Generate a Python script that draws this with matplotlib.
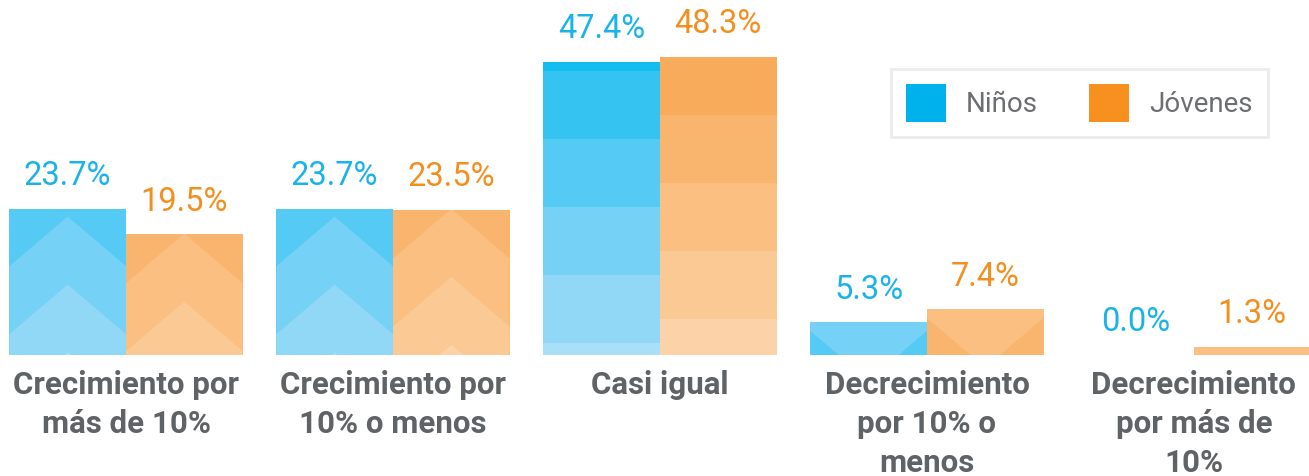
import numpy as np
import matplotlib
matplotlib.use('Agg')
import matplotlib.pyplot as plt
from matplotlib.patches import Patch

# data
categories = ['Crecimiento por\nmás de 10%', 'Crecimiento por\n10% o menos', 'Casi igual',
              'Decrecimiento\npor 10% o\nmenos', 'Decrecimiento\npor más de\n10%']
ninos = [23.7, 23.7, 47.4, 5.3, 0.0]
jovenes = [19.5, 23.5, 48.3, 7.4, 1.3]
series_names = ['Niños', 'Jóvenes']
patterns = ['up', 'up', 'flat', 'down', 'down']

# style
blue_main = '#00b2ec'
orange_main = '#f7901e'
blue_txt = '#19b3ea'
orange_txt = '#f38f1f'
label_col = '#5f6366'
blue_shades = ['#12bdf0', '#35c4f2', '#55caf4', '#75d1f5', '#90d8f6', '#a8e0f8']
orange_shades = ['#f8ab5a', '#f9b56e', '#fabf81', '#fbc993', '#fcd3a8', '#fcdcb8']
start_idx = {('up', 0): 2, ('up', 1): 1, ('flat', 0): 0, ('flat', 1): 0,
             ('down', 0): 3, ('down', 1): 2}
phase = {('up', 0): 1.3, ('up', 1): -0.15, ('flat', 0): 1.45, ('flat', 1): 9.4,
         ('down', 0): 1.4, ('down', 1): 1.4}   # band offset below bar top (data units)
spacing = 11.0             # band spacing (data units)
px_x, px_y = 267.0, 6.18   # pixels per data unit
slope = 0.85 * px_x / px_y

plt.rcParams['font.family'] = ['Roboto', 'DejaVu Sans']
fig = plt.figure(figsize=(13.09, 4.76), dpi=100)
ax = fig.add_axes([0, (476 - 355) / 476, 1, 355 / 476])
ax.set_xlim(-0.472, 4.431)
ax.set_ylim(0, 355 / px_y)
ax.axis('off')

x = np.arange(len(categories))
w = 0.437


def decorate(patch, kind, s):
    shades = blue_shades if s == 0 else orange_shades
    x0 = patch.get_x()
    x1 = x0 + patch.get_width()
    xc = (x0 + x1) / 2
    hw = (x1 - x0) / 2
    top = patch.get_height()
    if top <= 0:
        return
    i0 = start_idx[(kind, s)]
    ph = phase[(kind, s)]
    polys = []
    if kind == 'flat':
        for k in range(8):
            y = top - ph - k * spacing
            polys.append(([x0, x1, x1, x0], [y, y, -50, -50]))
        cols = shades[i0:]
    elif kind == 'up':
        for k in range(8):
            ap = top - ph - k * spacing
            polys.append(([x0, xc, x1, x1, x0], [ap - slope * hw, ap, ap - slope * hw, -50, -50]))
        cols = shades[i0:]
    else:
        for k in range(8):
            yt = top - ph - k * spacing
            yc = yt - slope * hw
            polys.append(([x0, x0, xc, x1, x1], [-50, yt, yc, yt, -50]))
        cols = shades[i0::-1]
    base = ax.fill([x0, x1, x1, x0], [0, 0, top, top], color=cols[0], lw=0)[0]
    base.set_clip_path(patch)
    for k, (px, py) in enumerate(polys):
        c = cols[min(k + 1, len(cols) - 1)]
        f = ax.fill(px, py, color=c, lw=0)[0]
        f.set_clip_path(patch)


for s, (vals, col, tcol) in enumerate([(ninos, blue_main, blue_txt), (jovenes, orange_main, orange_txt)]):
    xs = x - w / 2 + s * w
    bars = ax.bar(xs, vals, width=w, color='none', edgecolor='none')
    for b, kind in zip(bars, patterns):
        decorate(b, kind, s)
    for xi, v in zip(xs, vals):
        ax.annotate(f'{v:.1f}%', (xi, v), xytext=(0, 12), textcoords='offset points',
                    ha='center', va='bottom', fontsize=23.5, color=tcol)

for xi, lab in zip(x, categories):
    ax.annotate(lab, (xi, 0), xytext=(0, -11), textcoords='offset points',
                ha='center', va='top', fontsize=22.5, fontweight='bold',
                color=label_col, linespacing=1.36, annotation_clip=False)

handles = [Patch(facecolor=blue_main), Patch(facecolor=orange_main)]
leg = fig.legend(handles, series_names, loc='upper right',
                 bbox_to_anchor=(1268 / 1309, 1 - 69 / 476), bbox_transform=fig.transFigure,
                 ncol=2, fontsize=20, frameon=True, fancybox=False,
                 handlelength=1.44, handleheight=1.69, handletextpad=0.72,
                 columnspacing=1.85, borderpad=0.55, borderaxespad=0)
leg.get_frame().set_edgecolor('#e6e7e8')
leg.get_frame().set_linewidth(2)
for t in leg.get_texts():
    t.set_color('#6d6e71')

fig.savefig('out.png', dpi=100)
